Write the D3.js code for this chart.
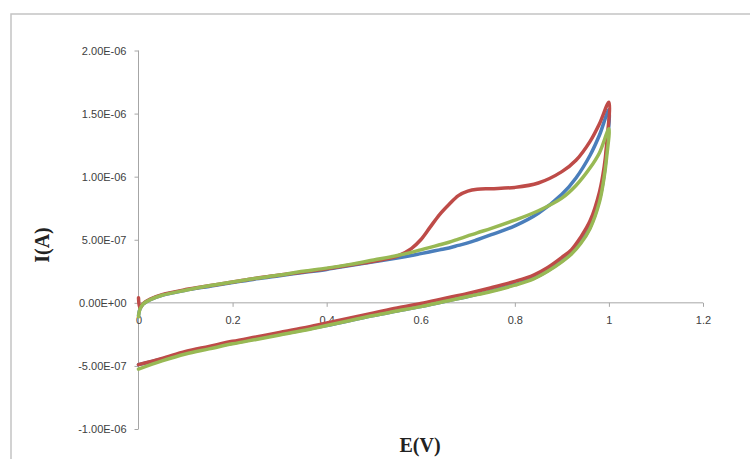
<!DOCTYPE html>
<html><head><meta charset="utf-8">
<script src="https://cdn.jsdelivr.net/npm/d3@7"></script>
<style>body{margin:0;background:#fff}svg{display:block}</style>
</head><body>
<script>
// Potential (V) and current (uA -> scaled by 1e-6) for the three CV scans
const forwardE = [0,0.003,0.01,0.025,0.05,0.1,0.15,0.2,0.25,0.3,0.35,0.4,0.45,0.5,0.55,0.58,0.6,0.62,0.64,0.66,0.68,0.7,0.72,0.75,0.8,0.85,0.9,0.93,0.96,0.98,1.0];
const reverseE = [1.0,0.995,0.99,0.98,0.96,0.94,0.92,0.9,0.87,0.84,0.8,0.75,0.7,0.65,0.6,0.55,0.5,0.45,0.4,0.35,0.3,0.25,0.2,0.15,0.1,0.05,0.0];

const blueFwd  = [-0.10,-0.05,-0.01,0.025,0.06,0.10,0.13,0.16,0.19,0.215,0.24,0.265,0.295,0.325,0.355,0.375,0.39,0.405,0.42,0.435,0.455,0.475,0.50,0.54,0.61,0.71,0.86,0.99,1.17,1.33,1.53];
const redFwd   = [0.04,-0.04,-0.005,0.03,0.065,0.105,0.135,0.165,0.195,0.22,0.245,0.27,0.30,0.33,0.37,0.43,0.50,0.60,0.70,0.78,0.85,0.885,0.90,0.905,0.915,0.95,1.04,1.13,1.28,1.42,1.59];
const greenFwd = [-0.11,-0.05,-0.01,0.025,0.06,0.10,0.135,0.165,0.195,0.22,0.25,0.275,0.305,0.34,0.375,0.40,0.42,0.44,0.46,0.48,0.505,0.53,0.555,0.59,0.655,0.73,0.83,0.93,1.07,1.19,1.38];

const blueRev  = [1.53,1.20,1.02,0.82,0.60,0.48,0.39,0.33,0.255,0.195,0.145,0.095,0.05,0.01,-0.03,-0.065,-0.10,-0.14,-0.18,-0.215,-0.25,-0.285,-0.32,-0.355,-0.395,-0.445,-0.49];
const redRev   = [1.59,1.25,1.08,0.88,0.65,0.52,0.42,0.36,0.28,0.22,0.17,0.12,0.075,0.035,-0.005,-0.04,-0.08,-0.12,-0.16,-0.20,-0.235,-0.27,-0.305,-0.345,-0.385,-0.44,-0.49];
const greenRev = [1.38,1.15,1.00,0.80,0.59,0.47,0.385,0.325,0.25,0.19,0.14,0.09,0.05,0.01,-0.03,-0.065,-0.10,-0.14,-0.18,-0.22,-0.255,-0.29,-0.325,-0.365,-0.405,-0.46,-0.525];

const seriesNames = ["Blue scan","Red scan","Green scan"];
const seriesColors = ["#4a7ebb","#be4b48","#98b954"];

const xTicks = [0,0.2,0.4,0.6,0.8,1,1.2];
const xTickLabels = ["0","0.2","0.4","0.6","0.8","1","1.2"];
const yTicks = [-1e-6,-5e-7,0,5e-7,1e-6,1.5e-6,2e-6];
const yTickLabels = ["-1.00E-06","-5.00E-07","0.00E+00","5.00E-07","1.00E-06","1.50E-06","2.00E-06"];

const W = 750, H = 459;
const svg = d3.select("body").append("svg").attr("width", W).attr("height", H);

// chart frame
svg.append("rect").attr("x", 11).attr("y", 14).attr("width", 760).attr("height", 470)
  .attr("fill", "none").attr("stroke", "#c4c4c4").attr("stroke-width", 1.5);

const x = d3.scaleLinear().domain([0, 1.2]).range([138.5, 703]);
const y = d3.scaleLinear().domain([-1e-6, 2e-6]).range([429, 50.5]);

const axisColor = "#a6a6a6";
const tickFont = "Liberation Sans, Arial, sans-serif";

// Y axis
const yAxis = svg.append("g").attr("transform", `translate(${x(0)},0)`)
  .call(d3.axisLeft(y).tickValues(yTicks).tickSize(4).tickPadding(8)
    .tickFormat((d, i) => yTickLabels[i]));
yAxis.select(".domain").attr("stroke", axisColor).attr("d", `M-0,${y(-1e-6)}V${y(2e-6)}`);
yAxis.selectAll(".tick line").attr("stroke", axisColor);
yAxis.selectAll(".tick text").attr("fill", "#404040").attr("font-size", 11).attr("font-family", tickFont);

// X axis (crosses at I = 0)
const xAxis = svg.append("g").attr("transform", `translate(0,${y(0)})`)
  .call(d3.axisBottom(x).tickValues(xTicks).tickSize(4).tickPadding(9)
    .tickFormat((d, i) => xTickLabels[i]));
xAxis.select(".domain").attr("stroke", axisColor).attr("d", `M${x(0)},0H${x(1.2)}`);
xAxis.selectAll(".tick line").attr("stroke", axisColor);
xAxis.selectAll(".tick text").attr("fill", "#404040").attr("font-size", 11).attr("font-family", tickFont);

// series
const fwd = [blueFwd, redFwd, greenFwd];
const rev = [blueRev, redRev, greenRev];
const line = d3.line().x(d => x(d[0])).y(d => y(d[1] * 1e-6)).curve(d3.curveCatmullRom.alpha(0.5));
const plot = svg.append("g");
seriesNames.forEach((name, i) => {
  const pts = forwardE.map((e, k) => [e, fwd[i][k]]).concat(reverseE.slice(1).map((e, k) => [e, rev[i][k + 1]]));
  plot.append("path").datum(pts).attr("d", line)
    .attr("fill", "none").attr("stroke", seriesColors[i]).attr("stroke-width", 3.5)
    .attr("stroke-linejoin", "round").attr("stroke-linecap", "round");
});

// axis titles
svg.append("text").attr("x", 420).attr("y", 452).attr("text-anchor", "middle")
  .attr("font-family", "Liberation Serif, Times New Roman, serif").attr("font-weight", "bold")
  .attr("font-size", 20).attr("fill", "#222").text("E(V)");
svg.append("text").attr("transform", "translate(49,245) rotate(-90)").attr("text-anchor", "middle")
  .attr("font-family", "Liberation Serif, Times New Roman, serif").attr("font-weight", "bold")
  .attr("font-size", 20).attr("fill", "#222").text("I(A)");
</script>
</body></html>
